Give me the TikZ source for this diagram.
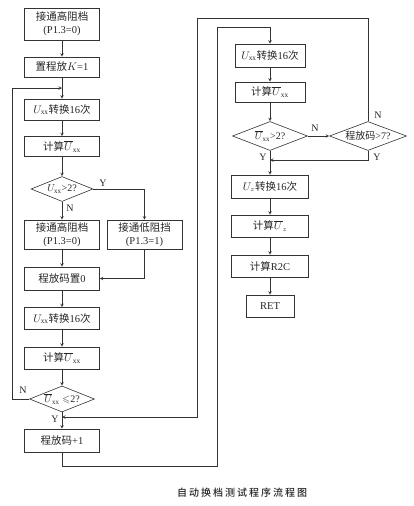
\documentclass[tikz,border=0pt]{standalone}
\usepackage{fontspec}
\usepackage{amssymb}
\setmainfont{Liberation Serif}
\newfontfamily\zhfont{Noto Sans CJK SC}
\newfontfamily\capfont[LetterSpace=20]{Noto Sans CJK SC Medium}
\newcommand{\zh}[1]{{\zhfont #1}}
\newcommand{\xx}{{\mathrm{xx}}}
\usetikzlibrary{shapes.geometric}
\begin{document}
\begin{tikzpicture}[x=1pt, y=-1pt, >=stealth, line width=0.6pt, color=black!80,
    box/.style={draw, rectangle, inner sep=0pt, minimum width=75pt,
        minimum height=20pt, align=center, text=black!85,
        font=\fontsize{10.5}{13}\selectfont},
    cond/.style={draw, diamond, aspect=2.6, inner sep=0pt, text=black!85,
        font=\fontsize{10}{12}\selectfont},
    lbl/.style={inner sep=0pt, text=black!85, font=\fontsize{10}{12}\selectfont}]

    \useasboundingbox (0,0) rectangle (414,506);

    % Left column nodes
    \node[box, minimum height=32pt] (hi1) at (62,24) {\zh{接通高阻档}\\(P1.3=0)};
    \node[box] (setk) at (62,67) {\zh{置程放}$K$=1};
    \node[box, minimum height=21pt] (conv1) at (62,109.5) {$U_\xx$\zh{转换}16\zh{次}};
    \node[box] (calc1) at (62,146.5) {\zh{计算}$\overline{U}_\xx$};
    \node[cond, minimum width=62pt, minimum height=25pt] (dia1) at (62,189) {$U_\xx$>2?};
    \node[box, minimum height=29pt] (hi2) at (62,234.5) {\zh{接通高阻档}\\(P1.3=0)};
    \node[box, minimum height=29pt] (lo) at (144.5,234.5) {\zh{接通低阻挡}\\(P1.3=1)};
    \node[box, minimum height=23pt] (zero) at (62,278.5) {\zh{程放码置}0};
    \node[box, minimum height=22pt] (conv2) at (62,318.5) {$U_\xx$\zh{转换}16\zh{次}};
    \node[box, minimum height=22pt] (calc2) at (62,358) {\zh{计算}$\overline{U}_\xx$};
    \node[cond, minimum width=65pt, minimum height=26pt] (dia2) at (62,399) {$\overline{U}_\xx\leqslant$2?};
    \node[box, minimum height=23pt] (inc) at (62,440.5) {\zh{程放码}+1};

    % Right column nodes
    \node[box, minimum width=70pt, minimum height=23pt] (conv3) at (270,55.5) {$U_\xx$\zh{转换}16\zh{次}};
    \node[box, minimum width=70pt] (calc3) at (270,92) {\zh{计算}$\overline{U}_\xx$};
    \node[cond, minimum width=75pt, minimum height=29pt] (dia3) at (270,136) {$\overline{U}_\xx$>2?};
    \node[cond, minimum width=77pt, minimum height=29pt] (dia4) at (368,136) {\zh{程放码}>7?};
    \node[box, minimum width=77pt, minimum height=23pt] (convz) at (270,186.5) {$U_z$\zh{转换}16\zh{次}};
    \node[box, minimum width=77pt, minimum height=22pt] (calcz) at (270,226) {\zh{计算}$\overline{U}_z$};
    \node[box, minimum width=77pt, minimum height=22pt] (r2c) at (270,266) {\zh{计算}R2C};
    \node[box, minimum width=48pt, minimum height=22pt] (ret) at (270,306) {RET};

    % Junctions and bends
    \coordinate (j1) at (62,88);
    \coordinate (lp) at (12,88);
    \coordinate (j2) at (62,417);
    \coordinate (ot) at (197,18);
    \coordinate (ib) at (217,466);
    \coordinate (it) at (217,27);
    \coordinate (j3) at (270,160);

    % Left column connectors
    \draw[->] (hi1) -- (setk);
    \draw[->] (setk) -- (conv1);
    \draw[->] (conv1) -- (calc1);
    \draw[->] (calc1) -- (dia1);
    \draw[->] (dia1) -- (hi2);
    \draw[->] (dia1.east) -| (lo.north);
    \draw[->] (hi2) -- (zero);
    \draw[->] (lo.south) |- (zero.east);
    \draw[->] (zero) -- (conv2);
    \draw[->] (conv2) -- (calc2);
    \draw[->] (calc2) -- (dia2);
    \draw[->] (dia2) -- (inc);
    \draw[->] (dia2.west) -| (lp) -- (j1);

    % Loops between the columns
    \draw[->] (inc.south) |- (ib) -- (it) -| (conv3.north);
    \draw[->] (dia4.north) |- (ot) |- (j2);

    % Right column connectors
    \draw[->] (conv3) -- (calc3);
    \draw[->] (calc3) -- (dia3);
    \draw[->] (dia3) -- (convz);
    \draw[->] (dia3) -- (dia4);
    \draw[->] (dia4.south) |- (j3);
    \draw[->] (convz) -- (calcz);
    \draw[->] (calcz) -- (r2c);
    \draw[->] (r2c) -- (ret);

    % Branch labels
    \node[lbl] (y1) at (103,183) {Y};
    \node[lbl] (n1) at (70,208) {N};
    \node[lbl] (n2) at (23,390) {N};
    \node[lbl] (y2) at (55,419) {Y};
    \node[lbl] (y3) at (263,157) {Y};
    \node[lbl] (n3) at (315,128) {N};
    \node[lbl] (n4) at (378,115) {N};
    \node[lbl] (y4) at (377,157) {Y};

    % Caption
    \node[text=black!85, font={\fontsize{10}{12}\capfont}] (title) at (242,493) {自动换档测试程序流程图};

\end{tikzpicture}
\end{document}
